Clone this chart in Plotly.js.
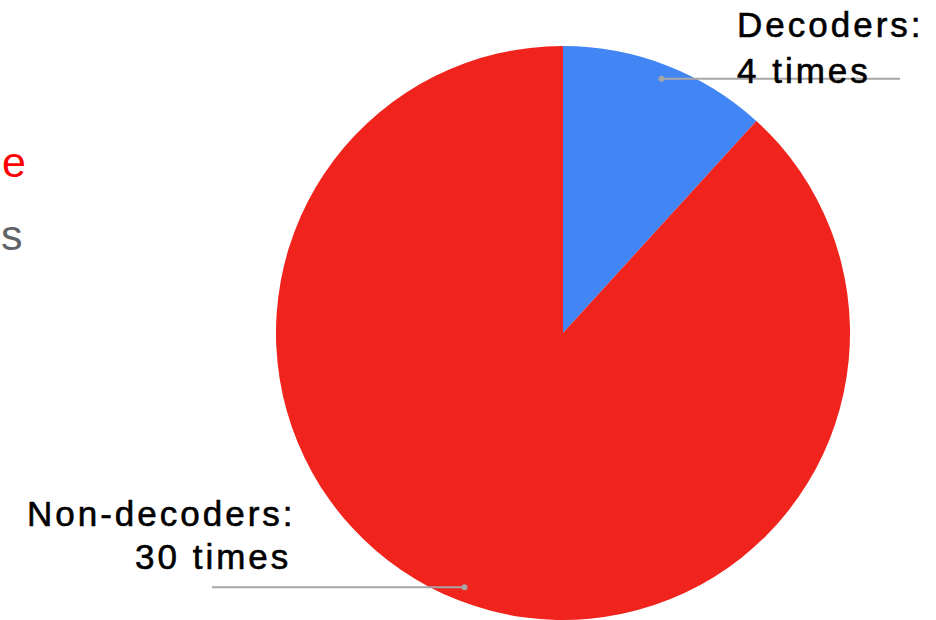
<!DOCTYPE html>
<html>
<head>
<meta charset="utf-8">
<script src="https://cdn.plot.ly/plotly-3.0.1.min.js"></script>
<style>
html,body{margin:0;padding:0;background:#fff;}
#chart{width:936px;height:620px;}
.annotation-text{letter-spacing:3px;}
.annotation[data-index="0"] text,
.annotation[data-index="1"] text,
.annotation[data-index="2"] text,
.annotation[data-index="3"] text{stroke:#000;stroke-width:0.6px;}
</style>
</head>
<body>
<div id="chart"></div>
<script>
// ---- data ----
const categories = ["Decoders", "Non-decoders"];
const values = [4, 30];
const sliceLabels = ["Decoders:", "Non-decoders:"];
const countLabels = ["4 times", "30 times"];
const sliceColors = ["#4285F4", "#F0231D"];

// ---- layout constants ----
const W = 936, H = 620;
const CX = 563, CY = 333, R = 287;
const px = x => x / W;
const py = y => 1 - y / H;

// leader dot positions computed from the data (clockwise from 12 o'clock)
const total = values.reduce((a, b) => a + b, 0);
let cum = 0;
const dots = values.map(v => {
  const mid = (cum + v / 2) / total * 2 * Math.PI;
  cum += v;
  const r = 0.95 * R;
  return {x: CX + r * Math.sin(mid), y: CY - r * Math.cos(mid)};
});
const lineEnds = [900, 212];

const shapes = [];
dots.forEach((d, i) => {
  shapes.push({type: 'line', xref: 'paper', yref: 'paper',
    x0: px(d.x), y0: py(d.y), x1: px(lineEnds[i]), y1: py(d.y),
    line: {color: '#a6a6a6', width: 2}});
  shapes.push({type: 'circle', xref: 'paper', yref: 'paper',
    x0: px(d.x - 3), x1: px(d.x + 3), y0: py(d.y - 3), y1: py(d.y + 3),
    fillcolor: '#a6a6a6', line: {width: 0}});
});

const lblFont = {family: 'Liberation Sans, Arial, sans-serif', size: 35, color: '#000'};
const annotations = [
  {text: sliceLabels[0], x: px(736), y: py(25), xanchor: 'left', yanchor: 'middle'},
  {text: countLabels[0], x: px(736), y: py(70), xanchor: 'left', yanchor: 'middle'},
  {text: sliceLabels[1], x: px(297), y: py(513), xanchor: 'right', yanchor: 'middle'},
  {text: countLabels[1], x: px(292), y: py(556), xanchor: 'right', yanchor: 'middle'}
].map(a => Object.assign(a, {xref: 'paper', yref: 'paper', showarrow: false, font: lblFont, borderpad: 0}));

annotations.push({text: 'e', x: px(30), y: py(162), xref: 'paper', yref: 'paper', xanchor: 'right', yanchor: 'middle',
  showarrow: false, borderpad: 0, font: {family: 'Liberation Sans, Arial, sans-serif', size: 43, color: '#ff0000'}});
annotations.push({text: 's', x: px(27), y: py(235), xref: 'paper', yref: 'paper', xanchor: 'right', yanchor: 'middle',
  showarrow: false, borderpad: 0, font: {family: 'Liberation Sans, Arial, sans-serif', size: 43, color: '#5f6368'}});

const trace = {
  type: 'pie',
  labels: categories,
  values: values,
  sort: false,
  direction: 'clockwise',
  rotation: 0,
  textinfo: 'none',
  hoverinfo: 'label+value',
  marker: {colors: sliceColors, line: {width: 0}},
  domain: {x: [px(CX - R), px(CX + R)], y: [py(CY + R), py(CY - R)]},
  showlegend: false
};

Plotly.newPlot('chart', [trace], {
  width: W, height: H,
  margin: {l: 0, r: 0, t: 0, b: 0},
  paper_bgcolor: '#fff',
  showlegend: false,
  shapes: shapes,
  annotations: annotations
}, {displayModeBar: false, staticPlot: true});
</script>
</body>
</html>
